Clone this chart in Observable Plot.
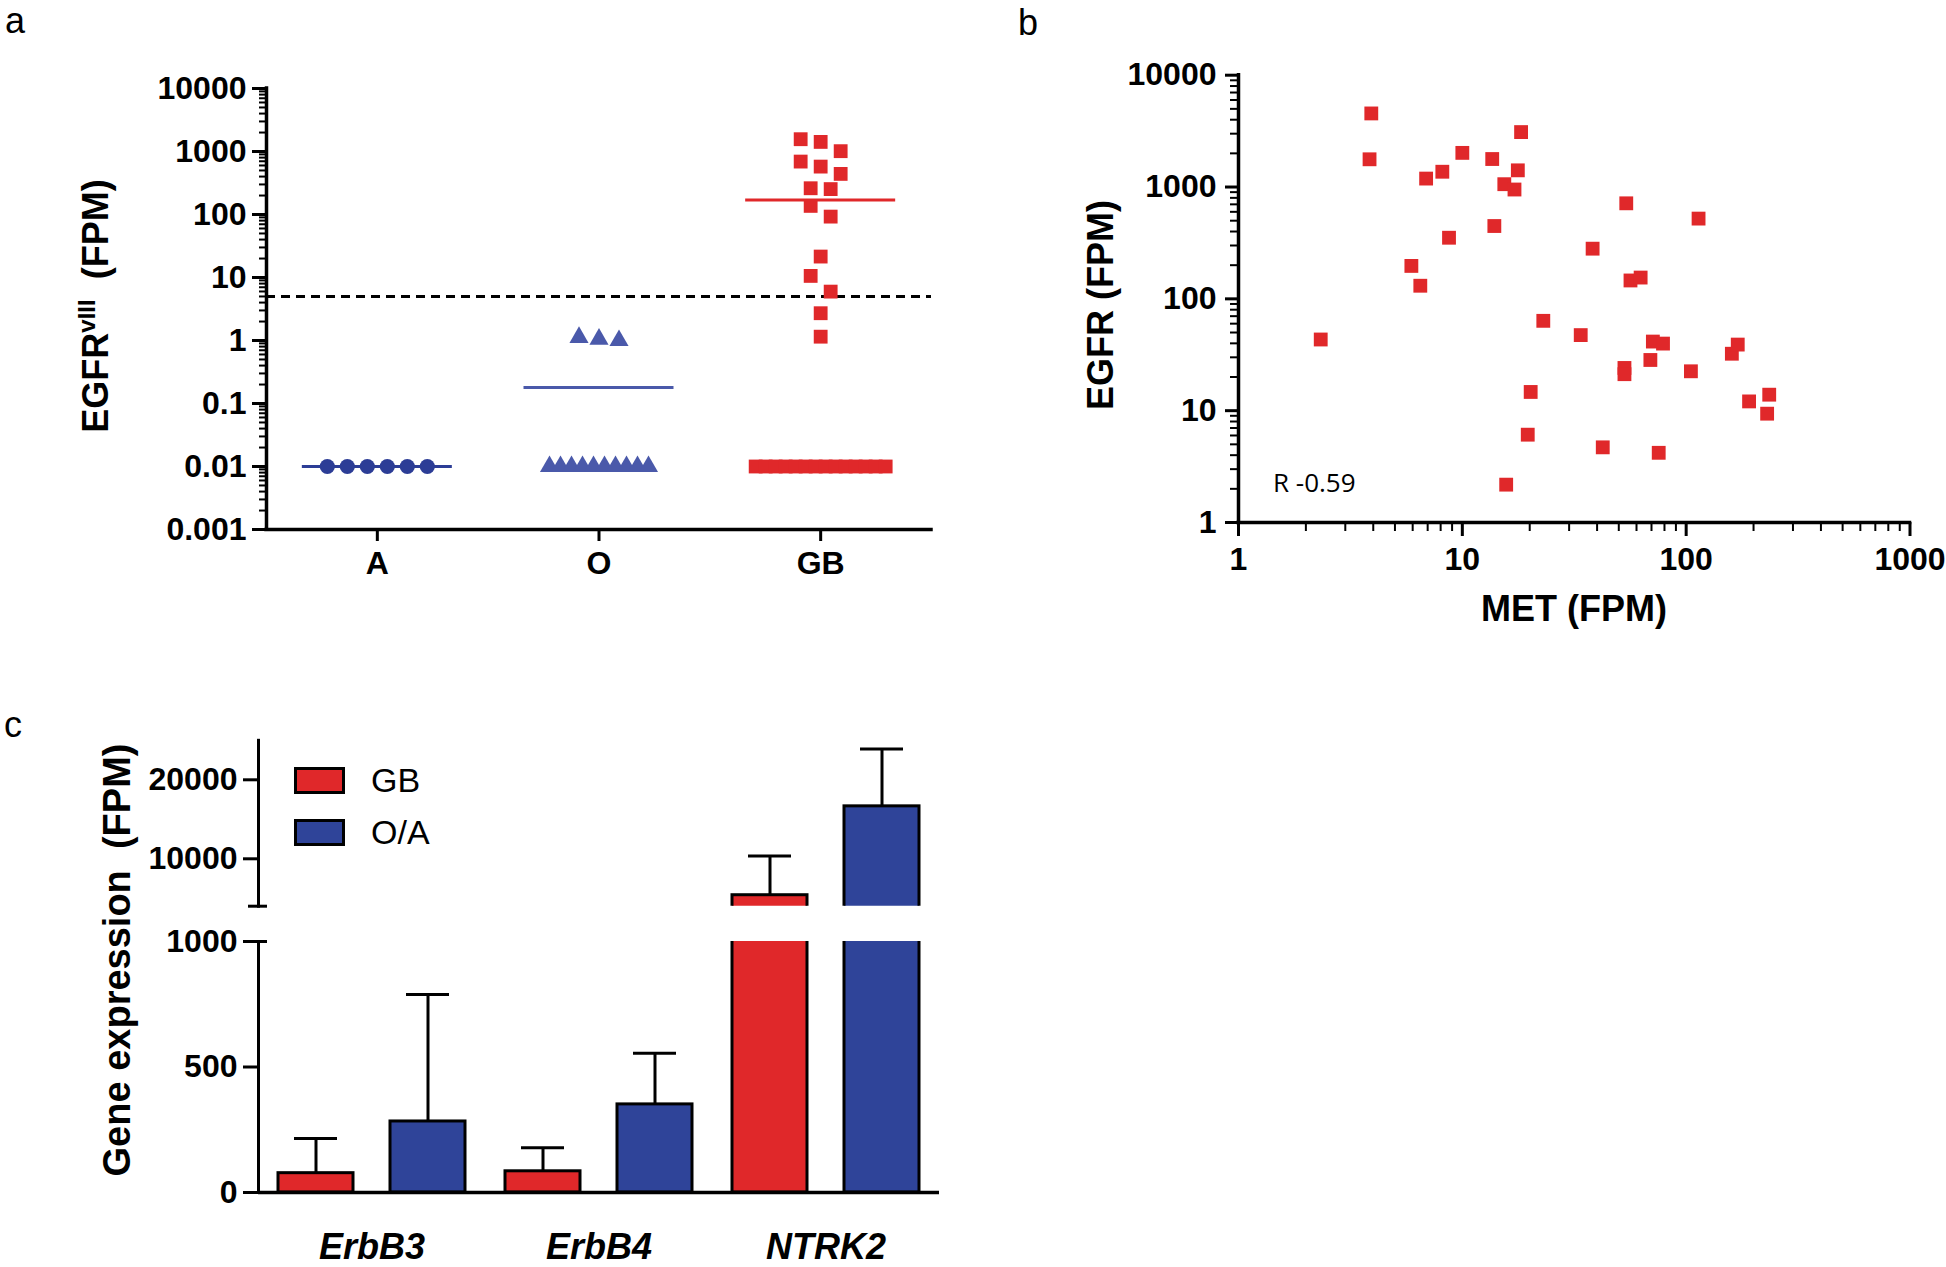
<!DOCTYPE html>
<html>
<head>
<meta charset="utf-8">
<script src="https://cdn.jsdelivr.net/npm/d3@7"></script>
<script src="https://cdn.jsdelivr.net/npm/@observablehq/plot@0.6"></script>
<style>
  body { margin: 0; background: #fff; }
  #wrap { position: relative; width: 1946px; height: 1267px; background: #fff; overflow: hidden;
          font-family: "Liberation Sans", Arial, sans-serif; }
  .panel { position: absolute; }
  .legend-row { position: absolute; display: flex; align-items: center; font-size: 34px; color: #000; }
  .sw { width: 51px; height: 27px; border: 3px solid #000; box-sizing: border-box; margin-right: 26px; }
</style>
</head>
<body>
<div id="wrap"></div>
<script>
// ---------------- Panel a : EGFRvIII (FPM) by tumour type ----------------
const groupsA = ["A", "O", "GB"];
const egfrviiiA = [0.01, 0.01, 0.01, 0.01, 0.01, 0.01];
const egfrviiiO = [1.12, 1.05, 1.0,
  0.01, 0.01, 0.01, 0.01, 0.01, 0.01, 0.01, 0.01, 0.01, 0.01];
const egfrviiiGB = [1567, 1420, 1012, 692, 576, 441, 261, 253, 137, 92.6, 21.5, 10.6, 5.97, 2.71, 1.15,
  0.01, 0.01, 0.01, 0.01, 0.01, 0.01, 0.01, 0.01, 0.01, 0.01, 0.01, 0.01, 0.01, 0.01];
const mediansA = [0.01, 0.18, 170];
const cutoffA = 5;
const logTicksA = [0.001, 0.01, 0.1, 1, 10, 100, 1000, 10000];
const yLabelA = ["EGFR", "vIII", "  (FPM)"];

// ---------------- Panel b : EGFR vs MET ----------------
const metB = [3.92, 3.85, 6.89, 8.14, 10.0, 13.6, 18.3, 17.7, 15.4, 17.1, 13.9, 8.72, 5.92, 6.49, 2.33,
  23.0, 33.8, 20.2, 19.6, 42.4, 15.7, 38.2, 54, 113.6, 56.4, 62.6, 71, 78.8, 69.2, 53, 53, 105,
  160, 170, 191, 235, 230, 75.4];
const egfrB = [4550, 1770, 1190, 1370, 2020, 1780, 3100, 1410, 1060, 950, 448, 352, 197, 131, 43.3,
  63.6, 47.4, 14.7, 6.1, 4.7, 2.18, 281, 715, 522, 146, 155, 41.5, 39.8, 28.4, 24.1, 21.2, 22.5,
  32.3, 39, 12.1, 13.9, 9.4, 4.2];
const xTicksB = [1, 10, 100, 1000];
const yTicksB = [1, 10, 100, 1000, 10000];
const rLabelB = "R -0.59";

// ---------------- Panel c : gene expression bars ----------------
const genesC = ["ErbB3", "ErbB4", "NTRK2"];
const cohortsC = ["GB", "O/A"];
const meanGBC = [77, 84.5, 5390];
const sdGBC = [138, 93.5, 4980];
const meanOAC = [283, 351, 16640];
const sdOAC = [506, 204, 7260];
const lowerTicksC = [0, 500, 1000];
const upperTicksC = [10000, 20000];
const lowerDomainC = [0, 1000];
const upperDomainC = [4000, 25000];

// ---------------- styles ----------------
const RED = "#e0282a";
const BLUE_DARK = "#2c3d96";
const BLUE_MID = "#4a59aa";
const BLUE_BAR = "#2f4499";
const baseStyle = {
  fontFamily: '"Liberation Sans", Arial, sans-serif',
  fontSize: "32px", fontWeight: "bold", color: "#000",
  background: "transparent", overflow: "visible"
};
const wrap = document.getElementById("wrap");
function place(el, left, top, w) {
  const d = document.createElement("div");
  d.className = "panel";
  d.style.left = left + "px"; d.style.top = top + "px"; d.style.width = w + "px";
  d.appendChild(el); wrap.appendChild(d);
}
function minorLog(lo, hi) {
  const out = [];
  for (let e = lo; e < hi; e++) for (let m = 2; m <= 9; m++) out.push(+(m * Math.pow(10, e)).toPrecision(6));
  return out;
}

// ===== Panel a =====
{
  const W = 960, H = 620, ML = 266, MR = 29, MT = 88, MB = 91;
  const fw = W - ML - MR, fh = H - MT - MB;
  const pxPerUnit = fw / groupsA.length;
  const ys = Plot.scale({y: {type: "log", domain: [0.001, 10000], range: [fh, 0]}});
  const groupStyle = {
    A:  {vals: egfrviiiA, symbol: "circle", r: 7.6, fill: BLUE_DARK, step: 20, maxSpan: 100},
    O:  {vals: egfrviiiO, symbol: "triangle", r: 7.1, fill: BLUE_MID, step: 20, maxSpan: 99},
    GB: {vals: egfrviiiGB, symbol: "square", r: 7.8, fill: RED, step: 20, maxSpan: 130}
  };
  const rowH = 16;
  function swarm(g, i) {
    const s = groupStyle[g];
    const pts = s.vals.map(v => ({g, i, v, py: ys.apply(v)})).sort((a, b) => a.py - b.py);
    const rows = [];
    for (const p of pts) {
      const last = rows[rows.length - 1];
      if (last && p.py - last.start < rowH) last.items.push(p);
      else rows.push({start: p.py, items: [p]});
    }
    for (const row of rows) {
      const n = row.items.length;
      const sp = n > 1 ? Math.min(s.step, s.maxSpan / (n - 1)) : 0;
      row.items.forEach((p, k) => p.dx = (k - (n - 1) / 2) * sp);
    }
    return pts;
  }
  const half = 75 / pxPerUnit;
  const marks = [
    Plot.ruleY([cutoffA], {stroke: "#000", strokeWidth: 3, strokeDasharray: "9,6"})
  ];
  groupsA.forEach((g, i) => {
    const s = groupStyle[g];
    marks.push(Plot.ruleY([{i, m: mediansA[i]}], {y: "m", x1: d => d.i - half, x2: d => d.i + half,
      stroke: g === "GB" ? RED : (g === "A" ? BLUE_DARK : BLUE_MID), strokeWidth: 3}));
    marks.push(Plot.dot(swarm(g, i), {x: d => d.i + d.dx / pxPerUnit, y: "v", symbol: s.symbol, r: s.r,
      fill: s.fill, stroke: "none"}));
  });
  marks.push(
    Plot.axisY(minorLog(-3, 4), {tickSize: 7, strokeWidth: 2, tickFormat: () => "", label: null}),
    Plot.axisY(logTicksA, {tickSize: 14, tickPadding: 6, strokeWidth: 3, tickFormat: d => String(d), label: null, fontSize: 32}),
    Plot.axisX([0, 1, 2], {tickSize: 12, tickPadding: 10, strokeWidth: 3, tickFormat: i => groupsA[i], label: null, fontSize: 32}),
    Plot.ruleX([-0.5], {stroke: "#000", strokeWidth: 3.5, strokeLinecap: "square"}),
    Plot.ruleY([0.001], {stroke: "#000", strokeWidth: 3.5, strokeLinecap: "square"})
  );
  const svg = Plot.plot({
    width: W, height: H, marginLeft: ML, marginRight: MR, marginTop: MT, marginBottom: MB,
    x: {type: "linear", domain: [-0.5, 2.5]},
    y: {type: "log", domain: [0.001, 10000]},
    style: baseStyle, marks
  });
  place(svg, 0, 0, W);
}

// ===== Panel b =====
{
  const W = 946, H = 640;
  const pts = metB.map((m, k) => ({met: m, egfr: egfrB[k]}));
  const svg = Plot.plot({
    width: W, height: H, marginLeft: 238, marginRight: 36.5, marginTop: 74.7, marginBottom: 118,
    x: {type: "log", domain: [1, 1000]},
    y: {type: "log", domain: [1, 10000]},
    style: baseStyle,
    marks: [
      Plot.dot(pts, {x: "met", y: "egfr", symbol: "square", r: 7.8, fill: RED, stroke: "none"}),
      Plot.axisY(minorLog(0, 4), {tickSize: 8, strokeWidth: 2, tickFormat: () => "", label: null}),
      Plot.axisY(yTicksB, {tickSize: 13, tickPadding: 9, strokeWidth: 3, tickFormat: d => String(d), label: null}),
      Plot.axisX(minorLog(0, 3), {tickSize: 9, strokeWidth: 2, tickFormat: () => "", label: null}),
      Plot.axisX(xTicksB, {tickSize: 14, tickPadding: 11, strokeWidth: 3, tickFormat: d => String(d), label: null}),
      Plot.ruleX([1], {stroke: "#000", strokeWidth: 3.5, strokeLinecap: "square"}),
      Plot.ruleY([1], {stroke: "#000", strokeWidth: 3.5, strokeLinecap: "square"})
    ]
  });
  place(svg, 1000, 0, W);
}

// ===== Panel c (broken axis: upper and lower segments) =====
{
  const bars = genesC.flatMap((g, i) => [
    {gene: g, cohort: cohortsC[0], mean: meanGBC[i], sd: sdGBC[i]},
    {gene: g, cohort: cohortsC[1], mean: meanOAC[i], sd: sdOAC[i]}
  ]);
  const W = 960, ML = 258, MR = 21;
  function segment(opts) {
    const marks = [
      Plot.ruleX(bars, {fx: "gene", x: "cohort", y1: "mean", y2: d => d.mean + d.sd, stroke: "#000", strokeWidth: 3, clip: true}),
      Plot.tickY(bars, {fx: "gene", x: "cohort", y: d => d.mean + d.sd, stroke: "#000", strokeWidth: 3,
        insetLeft: 16, insetRight: 16, clip: true}),
      Plot.barY(bars, {fx: "gene", x: "cohort", y: "mean", fill: "cohort", stroke: "#000", strokeWidth: 3, clip: true}),
      Plot.axisY(opts.ticks, {tickSize: 15, tickPadding: 6, strokeWidth: 3, tickFormat: d => String(d), label: null}),
      Plot.axisY(opts.capTicks, {tickSize: -9, strokeWidth: 3, tickFormat: () => "", label: null}),
      Plot.frame({anchor: "left", facetAnchor: "left", stroke: "#000", strokeWidth: 3})
    ].concat(opts.extra);
    return Plot.plot({
      width: W, height: opts.height, marginLeft: ML, marginRight: MR, marginTop: opts.mt, marginBottom: opts.mb,
      fx: {domain: genesC, padding: 0, axis: null},
      x: {domain: cohortsC, paddingInner: 0.334, paddingOuter: 0.175, axis: null},
      y: {domain: opts.domain},
      color: {domain: cohortsC, range: [RED, BLUE_BAR]},
      style: baseStyle, marks
    });
  }
  const upper = segment({
    height: 230, mt: 49.8, mb: 14.3, domain: upperDomainC, ticks: upperTicksC,
    capTicks: [upperDomainC[0]],
    extra: [Plot.axisY([upperDomainC[0]], {tickSize: 10, strokeWidth: 3, tickFormat: () => "", label: null})]
  });
  place(upper, 0, 690, W);
  const lower = segment({
    height: 337, mt: 11, mb: 75, domain: lowerDomainC, ticks: lowerTicksC,
    capTicks: [lowerDomainC[1]],
    extra: [
      Plot.ruleY([0], {stroke: "#000", strokeWidth: 3.5}),
      Plot.axisFx({anchor: "bottom", tickSize: 0, tickPadding: 41, fontSize: 36, fontStyle: "italic", fontWeight: "bold", label: null})
    ]
  });
  place(lower, 0, 930, W);

  // legend
  const legendColors = [RED, BLUE_BAR];
  const legendTops = [766, 818];
  cohortsC.forEach((c, k) => {
    const row = document.createElement("div");
    row.className = "legend-row";
    row.style.left = "294px"; row.style.top = (legendTops[k] - 6) + "px"; row.style.height = "40px";
    const sw = document.createElement("div");
    sw.className = "sw"; sw.style.background = legendColors[k];
    const tx = document.createElement("span"); tx.textContent = c;
    row.appendChild(sw); row.appendChild(tx);
    wrap.appendChild(row);
  });
}

// ===== Overlay text: panel letters, axis titles, annotation =====
{
  const ov = d3.select(wrap).append("svg")
    .attr("width", 1946).attr("height", 1267)
    .style("position", "absolute").style("left", 0).style("top", 0).style("pointer-events", "none")
    .style("font-family", '"Liberation Sans", Arial, sans-serif');
  const letters = [["a", 5, 33], ["b", 1018, 35], ["c", 4, 737]];
  letters.forEach(([t, x, y]) => ov.append("text").attr("x", x).attr("y", y).attr("font-size", 36).text(t));

  // panel a y title with superscript
  const ta = ov.append("text").attr("transform", "translate(95,306) rotate(-90)")
    .attr("text-anchor", "middle").attr("dy", "0.36em").attr("font-size", 36).attr("font-weight", "bold")
    .style("white-space", "pre");
  ta.append("tspan").text(yLabelA[0]);
  ta.append("tspan").attr("font-size", 24).attr("baseline-shift", "super").text(yLabelA[1]);
  ta.append("tspan").text(yLabelA[2]);

  ov.append("text").attr("transform", "translate(1100,305) rotate(-90)")
    .attr("text-anchor", "middle").attr("dy", "0.36em").attr("font-size", 36).attr("font-weight", "bold")
    .text("EGFR (FPM)");
  ov.append("text").attr("x", 1574).attr("y", 608)
    .attr("text-anchor", "middle").attr("dy", "0.36em").attr("font-size", 36).attr("font-weight", "bold")
    .text("MET (FPM)");
  ov.append("text").attr("x", 1273).attr("y", 492)
    .attr("font-size", 26).style("font-family", '"Open Sans", sans-serif')
    .text(rLabelB);
  ov.append("text").attr("transform", "translate(116,960) rotate(-90)")
    .attr("text-anchor", "middle").attr("dy", "0.36em").attr("font-size", 38).attr("font-weight", "bold")
    .style("white-space", "pre")
    .text("Gene expression  (FPM)");
}
</script>
</body>
</html>
